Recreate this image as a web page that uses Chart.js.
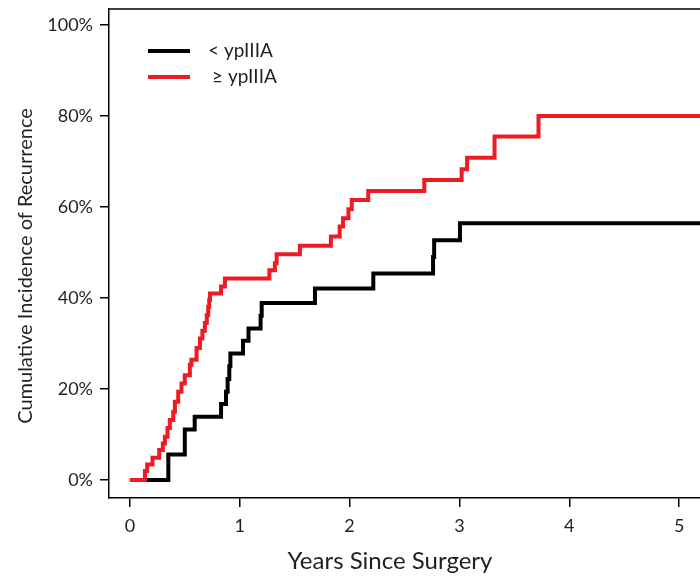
<!DOCTYPE html>
<html>
<head>
<meta charset="utf-8">
<script src="https://cdn.jsdelivr.net/npm/chart.js@4.4.1/dist/chart.umd.min.js"></script>
<style>
  html, body { margin: 0; padding: 0; background: #fff; }
  #wrap { width: 700px; height: 576px; }
</style>
</head>
<body>
<div id="wrap"><canvas id="c" width="700" height="576"></canvas></div>
<script>
// ---- Data ----
const seriesLabels = ['< ypIIIA', '\u2265 ypIIIA'];
const seriesColors = ['#000000', '#ED1C24'];

// Years since surgery at which the step occurs, and cumulative incidence (%) after it
const lowYears = [0, 0.35, 0.50, 0.59, 0.83, 0.875, 0.89, 0.905, 0.915, 1.03, 1.08, 1.19, 1.20, 1.685, 2.216, 2.76, 2.77, 3.005, 5.3];
const lowIncidence = [0, 5.6, 11.1, 13.9, 16.7, 19.4, 22.2, 25.0, 27.8, 30.6, 33.3, 36.1, 38.9, 42.1, 45.4, 49.0, 52.7, 56.4, 56.4];

const highYears = [0, 0.137, 0.158, 0.206, 0.267, 0.300, 0.319, 0.343, 0.364, 0.395, 0.41, 0.44, 0.47, 0.50, 0.546, 0.56, 0.607, 0.638, 0.66, 0.683, 0.70, 0.713, 0.722, 0.729, 0.83, 0.865, 1.27, 1.32, 1.336, 1.548, 1.83, 1.91, 1.94, 1.99, 2.02, 2.17, 2.68, 3.02, 3.07, 3.32, 3.72, 5.3];
const highIncidence = [0, 2.0, 3.4, 4.9, 6.6, 8.0, 9.5, 11.4, 13.2, 15.0, 17.2, 19.4, 21.2, 23.0, 25.3, 26.4, 29.0, 31.1, 32.8, 34.5, 36.2, 38.0, 39.5, 41.0, 42.5, 44.3, 46.1, 47.6, 49.6, 51.5, 53.5, 55.7, 57.5, 59.5, 61.5, 63.5, 65.9, 68.3, 70.8, 75.5, 80.0, 80.0];

const xTickValues = [0, 1, 2, 3, 4, 5];
const yTickValues = [0, 20, 40, 60, 80, 100];
const xTitle = 'Years Since Surgery';
const yTitle = 'Cumulative Incidence of Recurrence';

const FONT = 'Lato, "Open Sans", sans-serif';
const TEXT = '#231F20';

function toPoints(xs, ys) { return xs.map((x, i) => ({ x: x, y: ys[i] })); }

const decorPlugin = {
  id: 'decor',
  afterDraw(chart) {
    const ctx = chart.ctx;
    const a = chart.chartArea;
    ctx.save();
    // top frame line
    ctx.strokeStyle = '#000';
    ctx.lineWidth = 1.5;
    ctx.beginPath();
    ctx.moveTo(a.left - 0.75, a.top);
    ctx.lineTo(chart.width, a.top);
    ctx.stroke();

    // axis titles
    ctx.fillStyle = TEXT;
    ctx.textAlign = 'center';
    ctx.textBaseline = 'middle';
    ctx.font = '24px ' + FONT;
    ctx.fillText(xTitle, 390, 561);
    ctx.save();
    ctx.translate(26, 266);
    ctx.rotate(-Math.PI / 2);
    ctx.font = '20px ' + FONT;
    ctx.fillText(yTitle, 0, 0);
    ctx.restore();

    // legend
    const rows = [51, 77];
    const textX = [208, 212];
    chart.data.datasets.forEach((ds, i) => {
      ctx.strokeStyle = ds.borderColor;
      ctx.lineWidth = 4;
      ctx.lineCap = 'butt';
      ctx.beginPath();
      ctx.moveTo(148, rows[i]);
      ctx.lineTo(190, rows[i]);
      ctx.stroke();
      ctx.fillStyle = TEXT;
      ctx.textAlign = 'left';
      ctx.font = '19px ' + FONT;
      ctx.fillText(ds.label, textX[i], rows[i]);
    });
    ctx.restore();
  }
};

new Chart(document.getElementById('c'), {
  type: 'scatter',
  data: {
    datasets: [
      {
        label: seriesLabels[0],
        data: toPoints(lowYears, lowIncidence),
        showLine: true,
        stepped: 'before',
        borderColor: seriesColors[0],
        backgroundColor: seriesColors[0],
        borderWidth: 4,
        pointRadius: 0,
        fill: false,
        order: 1
      },
      {
        label: seriesLabels[1],
        data: toPoints(highYears, highIncidence),
        showLine: true,
        stepped: 'before',
        borderColor: seriesColors[1],
        backgroundColor: seriesColors[1],
        borderWidth: 4,
        pointRadius: 0,
        fill: false,
        order: 0
      }
    ]
  },
  options: {
    responsive: false,
    animation: false,
    devicePixelRatio: 1,
    layout: { padding: { top: 9, right: 0, bottom: 0, left: 0 } },
    plugins: {
      legend: { display: false },
      tooltip: { enabled: false },
      title: { display: false }
    },
    scales: {
      x: {
        type: 'linear',
        min: -0.19,
        max: 5.19,
        afterFit(scale) { scale.height = 78; scale.paddingLeft = 0; scale.paddingRight = 0; },
        afterBuildTicks(scale) { scale.ticks = xTickValues.map(v => ({ value: v })); },
        grid: { display: true, drawOnChartArea: false, drawTicks: true, tickLength: 9, color: '#000', lineWidth: 1.5 },
        border: { display: true, color: '#000', width: 1.5 },
        ticks: {
          color: TEXT,
          padding: 8,
          maxRotation: 0,
          font: { family: FONT, size: 18 },
          callback: v => String(v)
        }
      },
      y: {
        type: 'linear',
        min: -3.96,
        max: 103.5,
        afterFit(scale) { scale.width = 109; scale.paddingTop = 0; scale.paddingBottom = 0; },
        afterBuildTicks(scale) { scale.ticks = yTickValues.map(v => ({ value: v })); },
        grid: { display: true, drawOnChartArea: false, drawTicks: true, tickLength: 9, color: '#000', lineWidth: 1.5 },
        border: { display: true, color: '#000', width: 1.5 },
        ticks: {
          color: TEXT,
          padding: 7,
          font: { family: FONT, size: 18 },
          callback: v => v + '%'
        }
      }
    }
  },
  plugins: [decorPlugin]
});
</script>
</body>
</html>
